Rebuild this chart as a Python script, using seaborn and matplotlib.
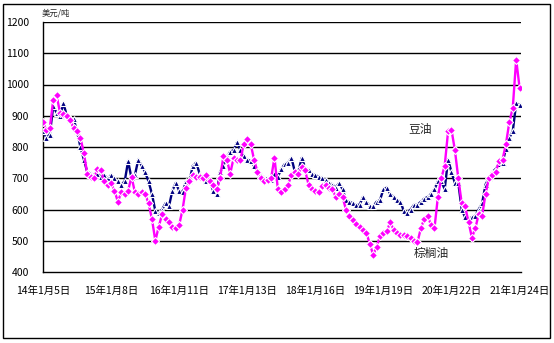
import numpy as np
import pandas as pd
import matplotlib
matplotlib.use("Agg")
import matplotlib.pyplot as plt
import seaborn as sns
from matplotlib.patches import Rectangle

tick_labels = ["14年1月5日", "15年1月8日", "16年1月11日", "17年1月13日",
               "18年1月16日", "19年1月19日", "20年1月22日", "21年1月24日"]

soy = [850, 830, 840, 930, 910, 900, 940, 900, 885, 890,
       850, 800, 760, 720, 715, 710, 715, 705, 710, 700,
       710, 700, 690, 680, 690, 755, 700, 710, 760, 740,
       720, 690, 650, 595, 590, 600, 620, 610, 660, 685,
       660, 655, 690, 690, 740, 750, 715, 700, 690, 690,
       660, 650, 720, 740, 770, 785, 790, 815, 790, 770,
       760, 755, 740, 730, 710, 700, 700, 695, 715, 705,
       730, 745, 750, 765, 720, 720, 765, 735, 725, 715,
       710, 705, 700, 695, 685, 680, 670, 685, 665, 630,
       625, 620, 615, 615, 640, 625, 610, 610, 625, 630,
       665, 670, 650, 640, 630, 625, 595, 590, 600, 615,
       615, 625, 635, 640, 650, 665, 690, 690, 665, 760,
       720, 685, 685, 600, 575, 570, 575, 580, 600, 620,
       680, 700, 720, 730, 745, 750, 795, 830, 850, 940,
       935]

palm = [880, 855, 860, 950, 965, 910, 905, 900, 885, 860,
        850, 830, 780, 715, 705, 700, 730, 725, 690, 680,
        685, 660, 625, 655, 650, 660, 705, 655, 650, 655,
        650, 620, 570, 500, 545, 585, 570, 560, 545, 540,
        550, 600, 670, 690, 710, 705, 705, 700, 710, 690,
        680, 665, 700, 770, 760, 715, 765, 760, 760, 810,
        825, 810, 760, 720, 700, 690, 695, 700, 765, 665,
        655, 665, 680, 710, 720, 715, 735, 725, 680, 665,
        660, 655, 675, 680, 670, 665, 640, 650, 640, 600,
        580, 565, 555, 545, 535, 525, 490, 455, 480, 515,
        525, 530, 560, 535, 525, 520, 520, 515, 510, 500,
        495, 540, 570, 580, 550, 540, 640, 700, 740, 850,
        855, 790, 700, 620, 610, 560, 510, 540, 585, 580,
        650, 700, 710, 720, 755, 760, 810, 880, 925, 1080,
        990]

n = len(soy)
idx = np.arange(n)
df = pd.DataFrame({"idx": np.concatenate([idx, idx]),
                   "price": soy + palm,
                   "series": ["豆油"] * n + ["棕榈油"] * n})

sns.set_style("white")
plt.rcParams["font.family"] = ["Noto Sans CJK SC", "DejaVu Sans"]

fig = plt.figure(figsize=(5.54, 3.43), dpi=100)
fig.patch.set_facecolor("white")
ax = fig.add_axes([43 / 554, 71 / 343, (521 - 43) / 554, (272 - 22) / 343])

sns.lineplot(data=df, x="idx", y="price", hue="series", style="series",
             palette={"豆油": "#000080", "棕榈油": "#FF00FF"},
             markers={"豆油": "^", "棕榈油": "D"}, dashes=False,
             markersize=4.2, markeredgewidth=0.8, linewidth=1.7,
             legend=False, ax=ax, zorder=3)
ax.set_xlim(0, (n - 1) * 1.003)
ax.set_ylim(400, 1200)
ax.set_yticks(range(400, 1201, 100))
ax.set_yticklabels([str(v) for v in range(400, 1201, 100)], fontsize=7.5)
ticks = idx[::20]
ax.set_xticks(ticks)
ax.set_xticklabels(tick_labels, fontsize=7.5)
ax.tick_params(axis="x", direction="in", length=4, width=1, pad=10, colors="black")
ax.tick_params(axis="y", length=0, pad=10, colors="black")
ax.set_xlabel("")
ax.set_ylabel("")
for y in range(500, 1201, 100):
    ax.axhline(y, color="black", linewidth=1.0, zorder=1)
for s in ["top", "right"]:
    ax.spines[s].set_visible(False)
for s in ["left", "bottom"]:
    ax.spines[s].set_visible(True)
    ax.spines[s].set_color("black")
    ax.spines[s].set_linewidth(1.0)

fig.text(42 / 554, 1 - 13 / 343, "美元/吨", fontsize=6, va="center", ha="left")
ax.text(0.765, 0.57, "豆油", transform=ax.transAxes, fontsize=8.5, ha="left", va="center")
ax.text(0.775, 0.075, "棕榈油", transform=ax.transAxes, fontsize=8.5, ha="left", va="center")

fig.patches.append(Rectangle((3 / 554, 5 / 343), 547 / 554, 334 / 343,
                             transform=fig.transFigure, fill=False,
                             edgecolor="black", linewidth=1.0))

fig.savefig("out.png", dpi=100)
